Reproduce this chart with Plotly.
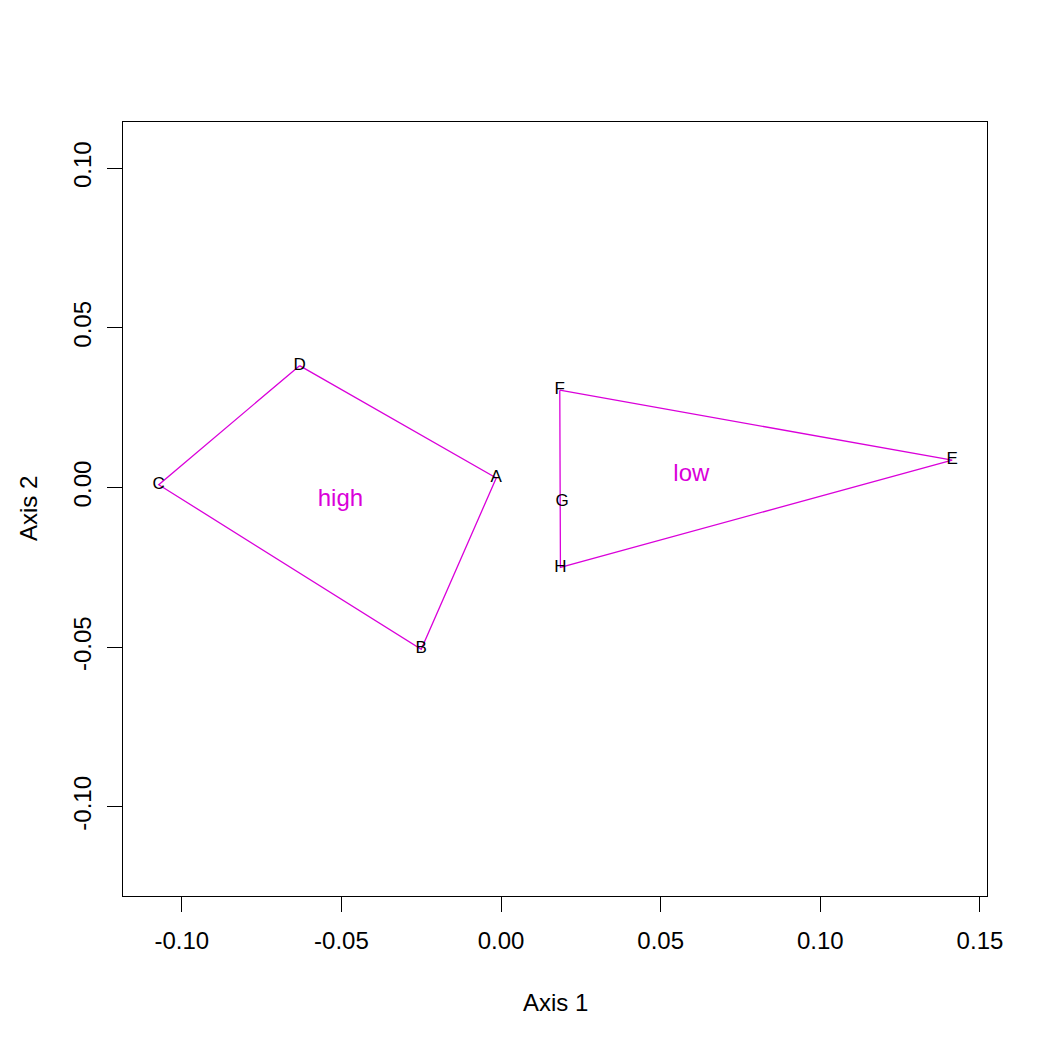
import plotly.graph_objects as go

# Site scores
sites = ["A", "B", "C", "D", "E", "F", "G", "H"]
axis1 = [-0.0015, -0.0250, -0.1072, -0.0631, 0.1413, 0.0184, 0.0191, 0.0186]
axis2 = [0.0030, -0.0506, 0.0009, 0.0382, 0.0086, 0.0305, -0.0044, -0.0250]

# Hull groups (order of hull vertices) and group label positions
groups = ["high", "low"]
hull_order = {"high": ["D", "A", "B", "C", "D"], "low": ["F", "E", "H", "F"]}
group_x = [-0.0503, 0.0596]
group_y = [-0.0038, 0.0041]

xticks = [-0.10, -0.05, 0.00, 0.05, 0.10, 0.15]
yticks = [-0.10, -0.05, 0.00, 0.05, 0.10]
xrange_ = [-0.1184, 0.1522]
yrange_ = [-0.1279, 0.1145]

HULL = "#DA00DA"
FONT = "Liberation Sans, Arial, Helvetica, sans-serif"

pos = {s: (x, y) for s, x, y in zip(sites, axis1, axis2)}

fig = go.Figure()
for g in groups:
    order = hull_order[g]
    fig.add_trace(go.Scatter(
        x=[pos[s][0] for s in order], y=[pos[s][1] for s in order],
        mode="lines", line=dict(color=HULL, width=1.3),
        showlegend=False, hoverinfo="skip"))

fig.add_trace(go.Scatter(
    x=axis1, y=axis2, mode="text", text=sites,
    textposition="middle center",
    textfont=dict(family=FONT, size=17, color="black"),
    showlegend=False))

fig.add_trace(go.Scatter(
    x=group_x, y=group_y, mode="text", text=groups,
    textposition="middle center",
    textfont=dict(family=FONT, size=24, color=HULL),
    showlegend=False))

axis_common = dict(
    showgrid=False, zeroline=False, showline=True, mirror=True,
    linecolor="black", linewidth=1, ticks="outside", ticklen=15,
    tickwidth=1, tickcolor="black",
    tickfont=dict(family=FONT, size=24, color="black"),
)

fig.update_xaxes(range=xrange_, tickvals=xticks, ticklabelstandoff=8,
                 ticktext=["%.2f" % v for v in xticks], **axis_common)
fig.update_yaxes(range=yrange_, tickvals=yticks, ticklabelstandoff=6,
                 ticktext=["%.2f" % v for v in yticks], tickangle=-90,
                 **axis_common)

fig.add_annotation(text="Axis 1", xref="paper", yref="paper", x=0.5, y=0,
                   yanchor="middle", yshift=-106, showarrow=False,
                   font=dict(family=FONT, size=24, color="black"))
fig.add_annotation(text="Axis 2", xref="paper", yref="paper", x=0, y=0.5,
                   xanchor="center", xshift=-95, textangle=-90,
                   showarrow=False,
                   font=dict(family=FONT, size=24, color="black"))

fig.update_layout(
    width=1050, height=1050,
    margin=dict(l=123, r=63, t=122, b=154),
    plot_bgcolor="white", paper_bgcolor="white",
)

fig.write_html("out.html")
